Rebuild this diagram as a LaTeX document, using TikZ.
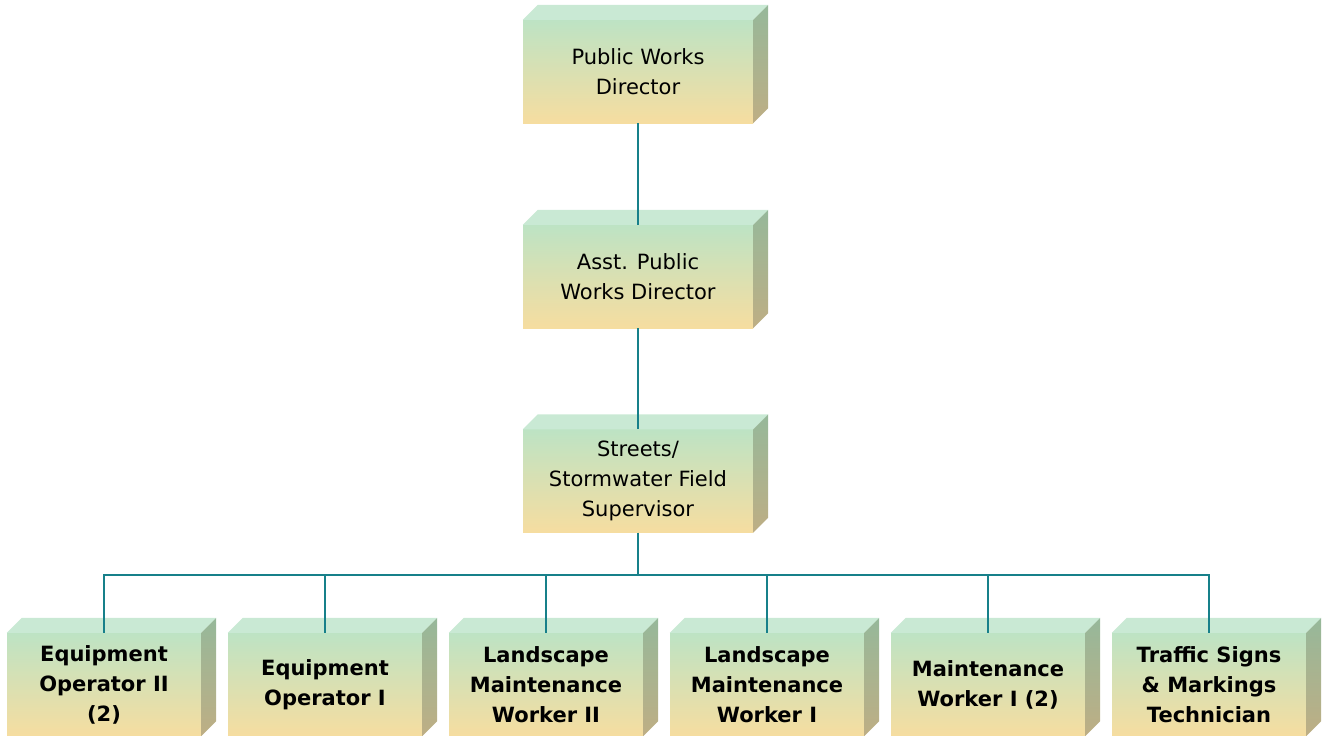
\documentclass[tikz,border=0pt]{standalone}
\usepackage{fontspec}
\setmainfont{DejaVu Sans}
\usepackage{xcolor}
\usepackage{tikz}

\definecolor{faceTop}{HTML}{BDE3C4}
\definecolor{faceBot}{HTML}{F6DDA0}
\definecolor{lidCol}{HTML}{C9E9D4}
\definecolor{sideTop}{HTML}{96B89A}
\definecolor{sideBot}{HTML}{BEAE84}
\definecolor{wire}{HTML}{17808A}

\begin{document}
\begin{tikzpicture}[x=1pt, y=-1pt,
    box/.style={inner sep=0pt, minimum height=103pt, align=center, top color=faceTop, bottom color=faceBot},
    boss/.style={box, minimum width=230pt, font=\fontsize{21}{30}\selectfont},
    crew/.style={box, minimum width=194pt, font=\bfseries\fontsize{21}{30}\selectfont},
    lid/.style={fill=lidCol},
    side/.style={top color=sideTop, bottom color=sideBot},
    link/.style={draw=wire, line width=1.8pt}]
    \useasboundingbox (0,0) rectangle (1323,736);

    \node[boss] (pwd) at (638,71.5) {Public Works\\Director};
    \node[boss] (apwd) at (638,276.5) {Asst. Public\\Works Director};
    \node[boss] (sup) at (638,481) {Streets/\\Stormwater Field\\Supervisor};

    \node[crew] (eo2) at (104,684.5) {Equipment\\Operator II\\(2)};
    \node[crew] (eo1) at (325,684.5) {Equipment\\Operator I};
    \node[crew] (lmw2) at (546,684.5) {Landscape\\Maintenance\\Worker II};
    \node[crew] (lmw1) at (767,684.5) {Landscape\\Maintenance\\Worker I};
    \node[crew] (mw1) at (988,684.5) {Maintenance\\Worker I (2)};
    \node[crew] (tsm) at (1209,684.5) {Traffic Signs\\\& Markings\\Technician};

    % the 3d lid and side of every box
    \foreach \n in {pwd,apwd,sup,eo2,eo1,lmw2,lmw1,mw1,tsm} {
        \path[lid] (\n.north west) -- ++(15,-15) -- ([xshift=15pt,yshift=15pt]\n.north east) -- (\n.north east) -- cycle;
        \path[side] (\n.south east) -- (\n.north east) -- ++(15,-15) -- ([xshift=15pt,yshift=15pt]\n.south east) -- cycle;
    }

    \coordinate (bus) at (638,575);
    \draw[link] (pwd.south) -- (apwd.north);
    \draw[link] (apwd.south) -- (sup.north);
    \draw[link] (sup.south) -- (bus);
    \foreach \n in {eo2,eo1,lmw2,lmw1,mw1,tsm}
        \draw[link] (bus) -| (\n.north);
\end{tikzpicture}
\end{document}
